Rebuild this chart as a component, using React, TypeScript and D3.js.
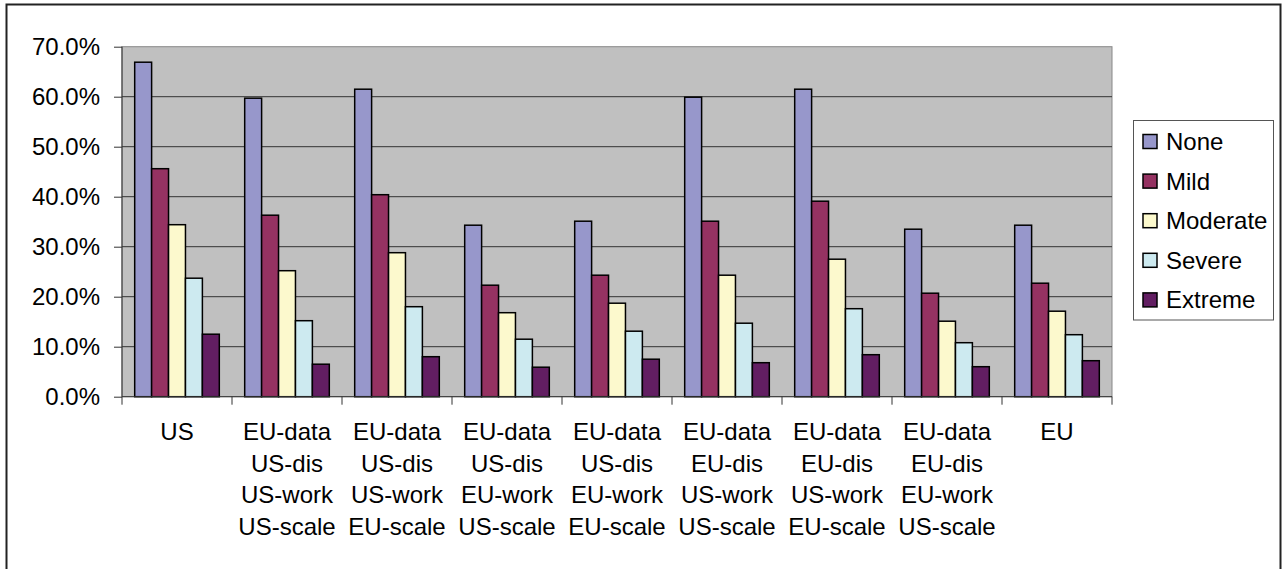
import React, { useEffect, useRef } from 'react';
import * as d3 from 'd3';

const categories: string[][] = [
  ['US'],
  ['EU-data', 'US-dis', 'US-work', 'US-scale'],
  ['EU-data', 'US-dis', 'US-work', 'EU-scale'],
  ['EU-data', 'US-dis', 'EU-work', 'US-scale'],
  ['EU-data', 'US-dis', 'EU-work', 'EU-scale'],
  ['EU-data', 'EU-dis', 'US-work', 'US-scale'],
  ['EU-data', 'EU-dis', 'US-work', 'EU-scale'],
  ['EU-data', 'EU-dis', 'EU-work', 'US-scale'],
  ['EU'],
];

const seriesNames = ['None', 'Mild', 'Moderate', 'Severe', 'Extreme'];
const seriesColors = ['#9797cb', '#953262', '#fcf9cd', '#cdeaf0', '#621e62'];

const none = [66.9, 59.7, 61.5, 34.3, 35.1, 59.9, 61.5, 33.5, 34.3];
const mild = [45.6, 36.3, 40.4, 22.3, 24.3, 35.1, 39.1, 20.7, 22.7];
const moderate = [34.4, 25.2, 28.8, 16.8, 18.7, 24.3, 27.5, 15.1, 17.1];
const severe = [23.7, 15.2, 18.0, 11.5, 13.1, 14.7, 17.6, 10.8, 12.4];
const extreme = [12.5, 6.5, 8.0, 5.9, 7.5, 6.8, 8.4, 6.0, 7.2];

const yTicks = [0, 10, 20, 30, 40, 50, 60, 70];

const W = 1282;
const H = 569;

export default function App() {
  const svgRef = useRef<SVGSVGElement>(null);

  useEffect(() => {
    if (!svgRef.current) return;
    const svg = d3.select(svgRef.current);
    svg.selectAll('*').remove();

    const values = [none, mild, moderate, severe, extreme];
    const font = '"Liberation Sans", Arial, sans-serif';
    const fs = 24;

    // chart frame
    svg.append('rect')
      .attr('x', 6.5).attr('y', 4.5)
      .attr('width', 1274).attr('height', 600)
      .attr('fill', '#fff')
      .attr('stroke', '#222')
      .attr('stroke-width', 2);

    const plot = { left: 122, top: 46.7, right: 1112, bottom: 396.7 };

    const x = d3.scaleBand<number>()
      .domain(d3.range(categories.length))
      .range([plot.left, plot.right]);

    const gapRatio = 1.5;
    const barW = x.bandwidth() / (seriesNames.length + gapRatio);
    const xInner = d3.scaleBand<number>()
      .domain(d3.range(seriesNames.length))
      .range([barW * gapRatio / 2, barW * gapRatio / 2 + barW * seriesNames.length]);

    const y = d3.scaleLinear().domain([0, 70]).range([plot.bottom, plot.top]);

    // plot area
    svg.append('rect')
      .attr('x', plot.left).attr('y', plot.top)
      .attr('width', plot.right - plot.left).attr('height', plot.bottom - plot.top)
      .attr('fill', '#c0c0c0')
      .attr('stroke', '#888')
      .attr('stroke-width', 1);

    // gridlines
    svg.append('g')
      .selectAll('line')
      .data(yTicks.slice(1, -1))
      .join('line')
      .attr('x1', plot.left).attr('x2', plot.right)
      .attr('y1', d => y(d)).attr('y2', d => y(d))
      .attr('stroke', '#333')
      .attr('stroke-width', 1);

    // bars
    const groups = svg.append('g')
      .selectAll('g')
      .data(categories.map((_, i) => i))
      .join('g')
      .attr('transform', i => `translate(${x(i)},0)`);

    groups.selectAll('rect')
      .data(i => values.map((s, k) => ({ k, v: s[i] })))
      .join('rect')
      .attr('x', d => xInner(d.k)!)
      .attr('width', barW)
      .attr('y', d => y(d.v))
      .attr('height', d => y(0) - y(d.v))
      .attr('fill', d => seriesColors[d.k])
      .attr('stroke', '#000')
      .attr('stroke-width', 1.5);

    // y axis
    const yAxis = svg.append('g')
      .attr('transform', `translate(${plot.left},0)`)
      .call(d3.axisLeft(y).tickValues(yTicks).tickSize(8).tickPadding(14)
        .tickFormat(d => `${(+d).toFixed(1)}%`));
    yAxis.select('.domain').attr('stroke', '#333').attr('d', `M0,${plot.top}V${plot.bottom}`);
    yAxis.selectAll('.tick line').attr('stroke', '#333');
    yAxis.selectAll('text')
      .attr('font-family', font)
      .attr('font-size', fs)
      .attr('fill', '#000');

    // x axis
    const xAxisG = svg.append('g');
    xAxisG.append('line')
      .attr('x1', plot.left).attr('x2', plot.right)
      .attr('y1', plot.bottom).attr('y2', plot.bottom)
      .attr('stroke', '#333');
    xAxisG.selectAll('line.tk')
      .data(d3.range(categories.length + 1))
      .join('line')
      .attr('class', 'tk')
      .attr('x1', i => plot.left + i * x.step()).attr('x2', i => plot.left + i * x.step())
      .attr('y1', plot.bottom).attr('y2', plot.bottom + 8)
      .attr('stroke', '#333');

    const labels = xAxisG.selectAll('text')
      .data(categories)
      .join('text')
      .attr('x', (_, i) => x(i)! + x.bandwidth() / 2)
      .attr('y', 440)
      .attr('text-anchor', 'middle')
      .attr('font-family', font)
      .attr('font-size', fs)
      .attr('fill', '#000');
    labels.selectAll('tspan')
      .data(d => d)
      .join('tspan')
      .attr('x', function () { return (this.parentNode as SVGTextElement).getAttribute('x'); })
      .attr('dy', (_, j) => (j === 0 ? 0 : 31.7))
      .text(d => d);

    // legend
    const legend = svg.append('g');
    legend.append('rect')
      .attr('x', 1133.5).attr('y', 120.5)
      .attr('width', 140).attr('height', 199.5)
      .attr('fill', '#fff')
      .attr('stroke', '#555')
      .attr('stroke-width', 1);
    const items = legend.selectAll('g')
      .data(seriesNames)
      .join('g')
      .attr('transform', (_, i) => `translate(1143,${141.5 + i * 39.6})`);
    items.append('rect')
      .attr('x', 0).attr('y', -7)
      .attr('width', 14).attr('height', 14)
      .attr('fill', (_, i) => seriesColors[i])
      .attr('stroke', '#000')
      .attr('stroke-width', 1.5);
    items.append('text')
      .attr('x', 23).attr('y', 8.5)
      .attr('font-family', font)
      .attr('font-size', fs)
      .attr('fill', '#000')
      .text(d => d);
  }, []);

  return (
    <div style={{ position: 'absolute', left: 0, top: 0 }}>
      <svg ref={svgRef} width={W} height={H} />
    </div>
  );
}
